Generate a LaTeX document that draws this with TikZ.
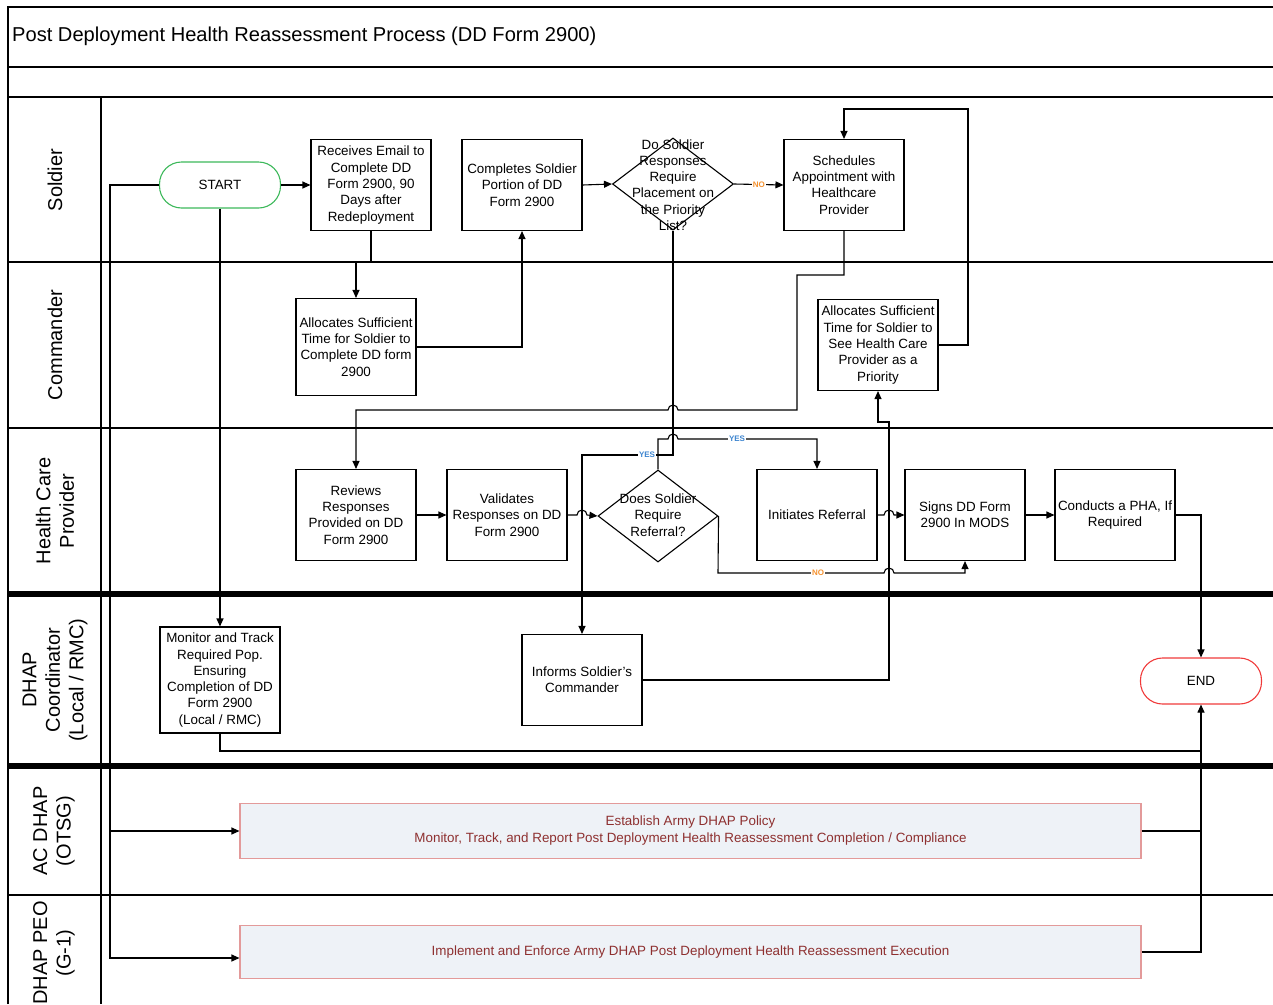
\documentclass[tikz,border=0pt]{standalone}
\usepackage{fontspec}
\setmainfont{Liberation Sans}
\usetikzlibrary{arrows.meta,shapes.geometric}

\definecolor{startgreen}{HTML}{3CB85A}
\definecolor{endred}{HTML}{F03A3A}
\definecolor{policyfill}{HTML}{EEF2F7}
\definecolor{policyedge}{HTML}{E39A9A}
\definecolor{policytext}{HTML}{8E3030}
\definecolor{yesblue}{HTML}{3D85D0}
\definecolor{noorange}{HTML}{F5922F}

\begin{document}
\begin{tikzpicture}[x=1pt,y=-1pt,
  frame/.style={line width=1.4pt},
  thicklane/.style={line width=6pt},
  lanehead/.style={rotate=90,align=center,font=\fontsize{20}{23.5}\selectfont},
  box/.style={draw,line width=1.1pt,minimum width=120pt,minimum height=91pt,
    align=center,inner sep=1pt,font=\fontsize{13.4}{16.3}\selectfont},
  decision/.style={draw,diamond,line width=1.1pt,inner sep=0pt,
    minimum width=121pt,minimum height=92pt},
  dtext/.style={align=center,inner sep=0pt,font=\fontsize{13.4}{16.3}\selectfont},
  terminal/.style={draw,line width=1.1pt,rounded corners=22pt,minimum width=121pt,
    minimum height=46pt,font=\fontsize{13.4}{16}\selectfont},
  policy/.style={draw=policyedge,fill=policyfill,line width=1.1pt,minimum width=901pt,
    align=center,text=policytext,font=\fontsize{13.4}{17}\selectfont},
  arr/.style={line width=1.1pt,-{Triangle[length=8pt,width=7pt]}},
  link/.style={line width=1.1pt},
  yeslbl/.style={fill=white,inner sep=1pt,text=yesblue,font=\bfseries\fontsize{8}{8}\selectfont},
  nolbl/.style={fill=white,inner sep=1pt,text=noorange,font=\bfseries\fontsize{8}{8}\selectfont}
]
\useasboundingbox (0,0) rectangle (1273,1004);

% ---- frame, title and swimlanes ----
\draw[frame] (8,1004) -- (8,7) -- (1273,7);
\draw[frame] (8,67) -- (1273,67);
\draw[frame] (8,97) -- (1273,97);
\draw[frame] (101,97) -- (101,1004);
\draw[frame] (8,262) -- (1273,262);
\draw[frame] (8,428) -- (1273,428);
\draw[thicklane] (8,594) -- (1273,594);
\draw[thicklane] (8,766) -- (1273,766);
\draw[frame] (8,895) -- (1273,895);

\node[anchor=west,inner sep=0pt,font=\fontsize{20.1}{23}\selectfont] (title) at (12,36)
  {Post Deployment Health Reassessment Process (DD Form 2900)};

\node[lanehead] (hSoldier) at (55,180) {Soldier};
\node[lanehead] (hCommander) at (55,345) {Commander};
\node[lanehead] (hHCP) at (55,511) {Health Care\\Provider};
\node[lanehead] (hDHAP) at (55,680) {DHAP\\Coordinator\\(Local / RMC)};
\node[lanehead] (hAC) at (54,831) {AC DHAP\\(OTSG)};
\node[lanehead] (hPEO) at (54,953) {DHAP PEO\\(G-1)};

% ---- nodes ----
\node[terminal,draw=startgreen] (start) at (220,185) {START};
\node[box] (rec) at (371,185) {Receives Email to\\Complete DD\\Form 2900, 90\\Days after\\Redeployment};
\node[box] (comp) at (522,185) {Completes Soldier\\Portion of DD\\Form 2900};
\node[decision] (d1) at (673,184) {};
\node[dtext] (d1t) at (673,185) {Do Soldier\\Responses\\Require\\Placement on\\the Priority\\List?};
\node[box] (sch) at (844,185) {Schedules\\Appointment with\\Healthcare\\Provider};

\node[box,minimum height=97pt] (al1) at (356,347) {Allocates Sufficient\\Time for Soldier to\\Complete DD form\\2900};
\node[box] (al2) at (878,345) {Allocates Sufficient\\Time for Soldier to\\See Health Care\\Provider as a\\Priority};

\node[box] (rev) at (356,515) {Reviews\\Responses\\Provided on DD\\Form 2900};
\node[box] (val) at (507,515) {Validates\\Responses on DD\\Form 2900};
\node[decision,minimum width=120pt] (d2) at (658,516) {};
\node[dtext] (d2t) at (658,515) {Does Soldier\\Require\\Referral?};
\node[box] (ini) at (817,515) {Initiates Referral};
\node[box] (sig) at (965,515) {Signs DD Form\\2900 In MODS};
\node[box] (con) at (1115,515) {Conducts a PHA, If\\Required};

\node[box,minimum height=106pt] (mon) at (220,680) {Monitor and Track\\Required Pop.\\Ensuring\\Completion of DD\\Form 2900\\(Local / RMC)};
\node[box] (inf) at (582,680) {Informs Soldier's\\Commander};
\node[terminal,draw=endred] (end) at (1201,681) {END};

\node[policy,minimum height=55pt] (est) at (690.5,831)
  {Establish Army DHAP Policy\\Monitor, Track, and Report Post Deployment Health Reassessment Completion / Compliance};
\node[policy,minimum height=53pt] (imp) at (690.5,952)
  {Implement and Enforce Army DHAP Post Deployment Health Reassessment Execution};

% ---- connectors ----
\coordinate (leftrail) at (110,958);
\coordinate (estrail) at (110,831);
\draw[arr] (start.east) -- (rec.west);
\draw[arr] (start.south) -- (mon.north);
\draw[arr] (start.west) -- (110,185) -- (leftrail) -- (leftrail -| imp.west);
\draw[arr] (estrail) -- (est.west);

\draw[arr] (rec.south) -- (371,262) -- (356,262) -- (al1.north);
\draw[arr] (al1.east) -- (522,347) -- (comp.south);
\draw[arr] (comp.east) -- (d1.west);
\draw[arr] (d1.east) -- node[nolbl]{NO} (sch.west);

% Schedules -> Reviews, hopping over the priority line
\draw[arr] (sch.south) -- (844,275) -- (797,275) -- (797,410) -- (678,410)
  arc[start angle=0,end angle=180,radius=5pt] -- (356,410) -- (rev.north);

% priority list: YES -> Informs Soldier's Commander
\draw[arr] (d1.south) -- (673,455) -- (582,455) -- (inf.north);
\node[yeslbl] (yes1) at (647,455) {YES};

% referral: YES -> Initiates Referral
\draw[arr] (d2.north) -- (658,439) -- (668,439)
  arc[start angle=180,end angle=0,radius=5pt] -- (817,439) -- (ini.north);
\node[yeslbl] (yes2) at (737,439) {YES};

\draw[arr] (rev.east) -- (val.west);
\draw[arr] (val.east) -- (577,515) arc[start angle=180,end angle=0,radius=5pt] -- (d2.west);

% referral: NO -> Signs DD Form 2900
\draw[arr] (d2.east) -- (718,573) -- (884,573)
  arc[start angle=180,end angle=0,radius=5pt] -- (965,573) -- (sig.south);
\node[nolbl] (no2) at (818,573) {NO};

\draw[arr] (ini.east) -- (884,515) arc[start angle=180,end angle=0,radius=5pt] -- (sig.west);
\draw[arr] (sig.east) -- (con.west);
\draw[arr] (con.east) -- (1201,515) -- (end.north);

\draw[arr] (inf.east) -- (889,680) -- (889,422) -- (878,422) -- (al2.south);
\draw[arr] (al2.east) -- (968,345) -- (968,109) -- (844,109) -- (sch.north);

\draw[link] (mon.south) -- (220,751) -- (1201,751);
\draw[link] (est.east) -- (1201,831);
\draw[arr] (imp.east) -- (1201,952) -- (end.south);
\end{tikzpicture}
\end{document}
